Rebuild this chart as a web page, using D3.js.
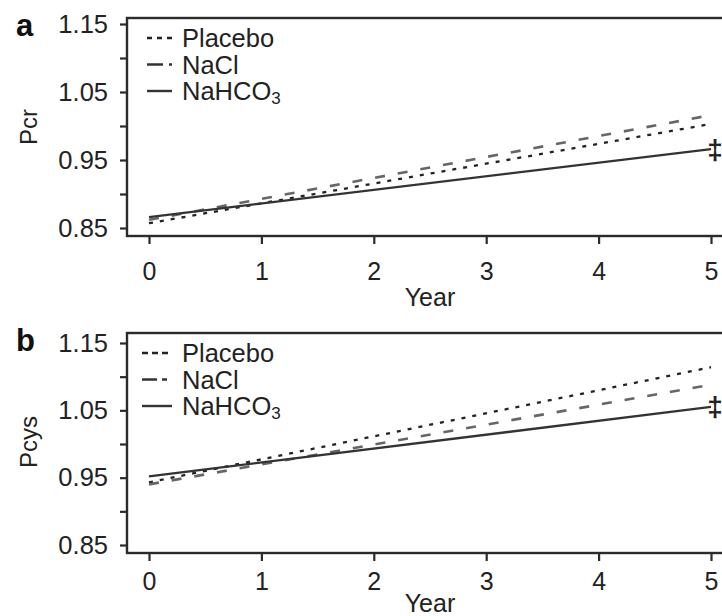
<!DOCTYPE html>
<html>
<head>
<meta charset="utf-8">
<script src="https://cdn.jsdelivr.net/npm/d3@7"></script>
<style>
  body { margin: 0; background: #fff; }
  svg { display: block; font-family: "Liberation Sans", Arial, Helvetica, sans-serif; }
</style>
</head>
<body>
<svg id="chart" width="722" height="616"></svg>
<script>
// ---- data ----
const years = [0, 5];
const xTicks = [0, 1, 2, 3, 4, 5];
const yTicks = [0.85, 0.90, 0.95, 1.00, 1.05, 1.10, 1.15];
const yTickLabels = ["0.85", "", "0.95", "", "1.05", "", "1.15"];
const groups = ["Placebo", "NaCl", "NaHCO3"];

// panel a: plasma creatinine trend
const placeboCr = [0.857, 1.003];
const naclCr    = [0.862, 1.016];
const bicarbCr  = [0.866, 0.966];

// panel b: plasma cystatin trend
const placeboCys = [0.943, 1.114];
const naclCys    = [0.940, 1.088];
const bicarbCys  = [0.952, 1.055];

// ---- layout / style ----
const svg = d3.select("#chart");
const ink = "#2b2b2b";

const lineStyle = [
  { color: "#222", width: 2.3, dash: "4,7" },
  { color: "#666", width: 2.6, dash: "10,13" },
  { color: "#333", width: 2.3, dash: null }
];

const panels = [
  { letter: "a", title: "Pcr", series: [placeboCr, naclCr, bicarbCr],
    boxTop: 18, boxBottom: 236, yTop: 24, yBottom: 228, tickPad: 18, yearY: 297,
    titleY: 127, legendX0: 147,
    legendDash: ["5,5", "16,6,3,10", null] },
  { letter: "b", title: "Pcys", series: [placeboCys, naclCys, bicarbCys],
    boxTop: 333, boxBottom: 553, yTop: 343, yBottom: 545, tickPad: 11, yearY: 603,
    titleY: 442, legendX0: 142,
    legendDash: ["6,4", "15,5,5,10", null] }
];

const left = 127, x0 = 149, x5 = 711;
const x = d3.scaleLinear().domain([0, 5]).range([x0, x5]);

panels.forEach(p => {
  const g = svg.append("g");
  const y = d3.scaleLinear().domain([0.85, 1.15]).range([p.yBottom, p.yTop]);

  // frame
  g.append("rect")
    .attr("x", left).attr("y", p.boxTop)
    .attr("width", 740 - left).attr("height", p.boxBottom - p.boxTop)
    .attr("fill", "none").attr("stroke", ink).attr("stroke-width", 2.4);

  // y axis
  const yAxis = d3.axisLeft(y)
    .tickValues(yTicks)
    .tickFormat((d, i) => yTickLabels[i])
    .tickSize(7).tickSizeOuter(0).tickPadding(12);
  const ya = g.append("g").attr("transform", `translate(${left},0)`).call(yAxis);
  ya.select(".domain").remove();
  ya.selectAll(".tick line").attr("stroke", ink).attr("stroke-width", 2.2);
  ya.selectAll(".tick text")
    .attr("font-size", 25.5).attr("fill", "#222")
    .attr("font-family", "Liberation Sans, Arial, sans-serif");

  // x axis
  const xAxis = d3.axisBottom(x)
    .tickValues(xTicks)
    .tickFormat(d3.format("d"))
    .tickSize(8).tickSizeOuter(0).tickPadding(p.tickPad);
  const xa = g.append("g").attr("transform", `translate(0,${p.boxBottom})`).call(xAxis);
  xa.select(".domain").remove();
  xa.selectAll(".tick line").attr("stroke", ink).attr("stroke-width", 2.2);
  xa.selectAll(".tick text")
    .attr("font-size", 25).attr("fill", "#222")
    .attr("font-family", "Liberation Sans, Arial, sans-serif");

  // axis titles
  g.append("text")
    .attr("x", (x0 + x5) / 2).attr("y", p.yearY)
    .attr("text-anchor", "middle").attr("dominant-baseline", "central")
    .attr("font-size", 25).attr("fill", "#222")
    .text("Year");

  g.append("text")
    .attr("transform", `translate(37,${p.titleY}) rotate(-90)`)
    .attr("text-anchor", "middle")
    .attr("font-size", 24).attr("fill", "#222")
    .text(p.title);

  // panel letter
  g.append("text")
    .attr("x", 16).attr("y", p.boxTop + 18)
    .attr("font-size", 31).attr("font-weight", "bold").attr("fill", "#111")
    .text(p.letter);

  // trend lines
  const line = d3.line().x((d, i) => x(years[i])).y(d => y(d));
  p.series.forEach((s, i) => {
    const st = lineStyle[i];
    g.append("path")
      .datum(s)
      .attr("d", line)
      .attr("fill", "none")
      .attr("stroke", st.color)
      .attr("stroke-width", st.width)
      .attr("stroke-dasharray", st.dash);
  });

  // significance marker at year 5 on the NaHCO3 line
  const bic = p.series[2];
  g.append("text")
    .attr("x", x(5) + 4).attr("y", y(bic[bic.length - 1]))
    .attr("text-anchor", "middle").attr("dominant-baseline", "central")
    .attr("font-size", 28).attr("font-weight", "bold").attr("fill", "#222")
    .text("\u2021");

  // legend
  const legendOffsets = [20, 46.5, 73];
  groups.forEach((name, i) => {
    const ly = p.boxTop + legendOffsets[i];
    const st = lineStyle[i];
    g.append("line")
      .attr("x1", p.legendX0).attr("x2", 172)
      .attr("y1", ly).attr("y2", ly)
      .attr("stroke", i === 1 ? "#333" : st.color)
      .attr("stroke-width", 2.4)
      .attr("stroke-dasharray", p.legendDash[i]);
    const t = g.append("text")
      .attr("x", 182).attr("y", ly)
      .attr("dominant-baseline", "central")
      .attr("font-size", 25.5).attr("fill", "#222");
    if (name === "NaHCO3") {
      t.append("tspan").text("NaHCO");
      t.append("tspan").attr("dy", 7).attr("font-size", 17).text("3");
    } else {
      t.text(name);
    }
  });
});
</script>
</body>
</html>
